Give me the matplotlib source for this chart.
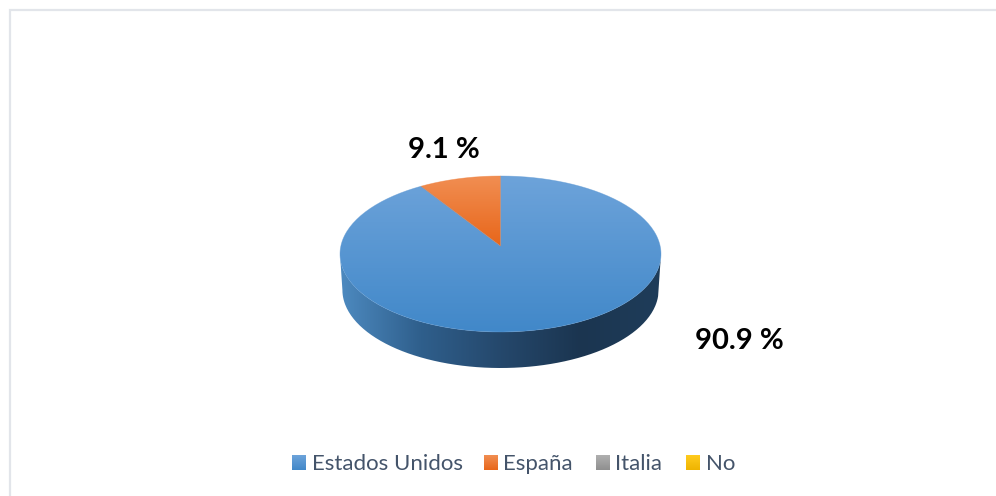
import matplotlib
matplotlib.use('Agg')
import matplotlib.pyplot as plt
from matplotlib.colors import LinearSegmentedColormap
from matplotlib.patches import PathPatch
from matplotlib.path import Path
import numpy as np

categories = ['Estados Unidos', 'España', 'Italia', 'No']
values = [90.9, 9.1, 0, 0]
value_labels = ['90.9 %', '9.1 %']

top_colors = [('#6da3da', '#4188c9'), ('#f18e52', '#e8661a'),
              ('#b0b0b0', '#8f8f8f'), ('#ffcb1f', '#efb400')]
edge_colors = ['#5a96d2', '#ee7d3a']
wall_colors = ['#4d8ac0', '#2f5f8c', '#25486c', '#1b3550', '#1f3d5a']
frame_color = '#e2e5ea'
legend_text_color = '#44546a'

W, H = 996, 496
cx, cy, rx, ry = 500.5, 254, 160.5, 78
depth = 36
apex_shift = 8 / ry

plt.rcParams['font.family'] = ['Lato', 'DejaVu Sans']


def px_x(x):
    return (x - cx) / rx


def px_y(y):
    return (cy - y) / ry


def tilt(theta_deg):
    # perspective of the disc: the pie centre lands above the ellipse centre
    t = np.radians(theta_deg)
    X, Y = np.cos(t), np.sin(t)
    d = 1 + apex_shift * Y
    return X * np.sqrt(1 - apex_shift ** 2) / d, (Y + apex_shift) / d


def gradient(ax, c0, c1, extent, path, horizontal=False, colors=None):
    cmap = LinearSegmentedColormap.from_list('g', colors if colors else [c0, c1])
    ramp = np.linspace(0, 1, 256)
    ramp = ramp[None, :] if horizontal else ramp[:, None]
    im = ax.imshow(ramp, cmap=cmap, extent=extent, aspect='auto', origin='upper',
                   interpolation='bilinear', zorder=2)
    clip = PathPatch(path, transform=ax.transData, fc='none', ec='none')
    ax.add_patch(clip)
    im.set_clip_path(clip)
    return im


fig = plt.figure(figsize=(W / 100, H / 100), dpi=100)
ax = fig.add_axes([0, 0, 1, 1])
wedges, _ = ax.pie(values, startangle=90, counterclock=False, radius=1, frame=True)
for w in wedges:
    w.set_visible(False)

# side wall
t = np.linspace(180, 360, 200)
xs, ys = np.cos(np.radians(t)), np.sin(np.radians(t))
wall_x = np.r_[xs, xs[::-1] * 0.985]
wall_y = np.r_[ys, ys[::-1] - depth / ry]
wall = Path(np.c_[wall_x, wall_y])
gradient(ax, None, None, (-1, 1, px_y(368), 0), wall, horizontal=True, colors=wall_colors)

# top face
for w, (c0, c1), ec in zip(wedges[:2], top_colors[:2], edge_colors):
    arc = np.linspace(w.theta1, w.theta2, 200)
    ax_x, ax_y = tilt(arc)
    path = Path(np.r_[[[0, apex_shift]], np.c_[ax_x, ax_y], [[0, apex_shift]]])
    low = apex_shift if w is wedges[1] else -1
    gradient(ax, c0, c1, (-1, 1, low, 1), path)
    ax.add_patch(PathPatch(path, fc='none', ec=ec, lw=0.5, alpha=0.5, zorder=3))

ax.text(px_x(443.5), px_y(150.5), value_labels[1], fontsize=21, fontweight='bold',
        color='black', ha='center', va='center')
ax.text(px_x(739.5), px_y(341), value_labels[0], fontsize=21, fontweight='bold',
        color='black', ha='center', va='center')

# legend
swatch_x = [292, 484, 596, 686]
text_x = [312, 503, 615, 706]
for name, sx, tx, (c0, c1) in zip(categories, swatch_x, text_x, top_colors):
    ext = (px_x(sx), px_x(sx + 14), px_y(470), px_y(455))
    rect = Path([(ext[0], ext[2]), (ext[1], ext[2]), (ext[1], ext[3]), (ext[0], ext[3]), (ext[0], ext[2])])
    gradient(ax, c0, c1, ext, rect)
    ax.text(px_x(tx), px_y(463.5), name, fontsize=16, color=legend_text_color,
            ha='left', va='center')

# chart border, open to the right and the bottom of the crop
ax.plot([px_x(9.5), px_x(9.5), px_x(W)], [px_y(H), px_y(9.5), px_y(9.5)],
        color=frame_color, lw=1.6, solid_joinstyle='miter', zorder=1)

ax.set_xlim(px_x(0), px_x(W))
ax.set_ylim(px_y(H), px_y(0))
ax.set_aspect('auto')
ax.axis('off')

fig.savefig('out.png', dpi=100)
